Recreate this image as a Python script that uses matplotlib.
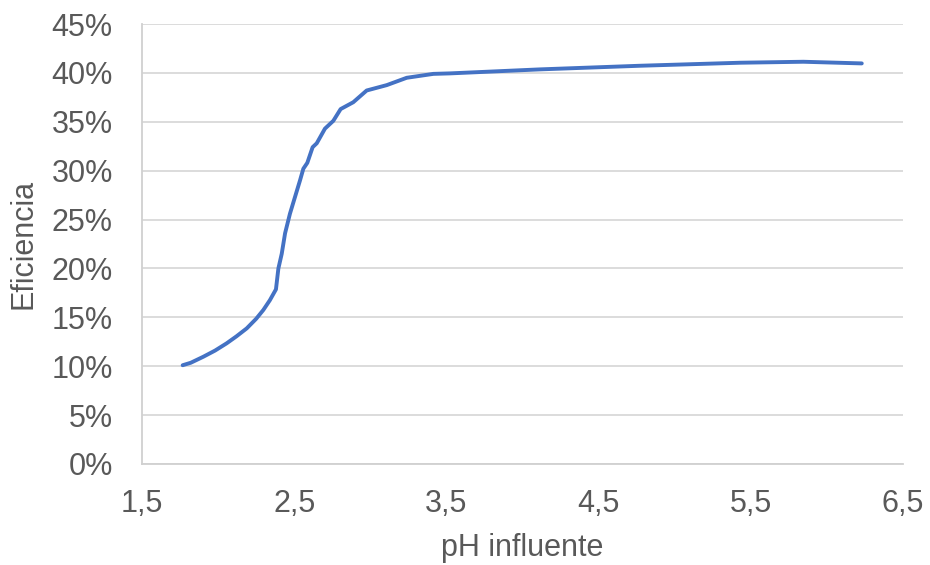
import matplotlib
matplotlib.use("Agg")
import matplotlib.pyplot as plt
from matplotlib.ticker import FuncFormatter, MultipleLocator

ph = [1.767, 1.82, 1.903, 1.98, 2.056, 2.12, 2.188, 2.25, 2.297, 2.34, 2.380, 2.396, 2.418,
      2.440, 2.472, 2.505, 2.538, 2.560, 2.586, 2.621, 2.648, 2.702, 2.757, 2.805,
      2.888, 2.976, 3.108, 3.239, 3.414, 3.524, 4.115, 4.77, 5.43, 5.845, 6.229]
eficiencia = [10.1, 10.35, 10.97, 11.6, 12.34, 13.05, 13.87, 14.85, 15.75, 16.75, 17.86, 20.0, 21.5,
              23.6, 25.6, 27.3, 29.0, 30.2, 30.8, 32.4, 32.8, 34.3, 35.1, 36.3,
              37.0, 38.2, 38.75, 39.5, 39.9, 39.95, 40.36, 40.73, 41.04, 41.14, 40.97]
x_ticks = [1.5, 2.5, 3.5, 4.5, 5.5, 6.5]

plt.rcParams['font.family'] = ['Liberation Sans', 'DejaVu Sans']
grey = '#595959'

fig = plt.figure(figsize=(9.3, 5.65), dpi=100)
ax = fig.add_axes([0.1527, 0.1788, 0.8183, 0.7787])

ax.plot(ph, eficiencia, color='#4472C4', linewidth=2.8, solid_capstyle='round',
        solid_joinstyle='round', zorder=3)

ax.set_xlim(1.5, 6.5)
ax.set_ylim(0, 45)
ax.set_xticks(x_ticks)
ax.xaxis.set_major_formatter(FuncFormatter(lambda v, p: f"{v:.1f}".replace('.', ',')))
ax.yaxis.set_major_locator(MultipleLocator(5))
ax.yaxis.set_major_formatter(FuncFormatter(lambda v, p: f"{v:.0f}%"))

ax.grid(axis='y', color='#d9d9d9', linewidth=1.3, zorder=0)
ax.set_axisbelow(True)
for s in ['top', 'right']:
    ax.spines[s].set_visible(False)
for s in ['left', 'bottom']:
    ax.spines[s].set_color('#d0d0d0')
    ax.spines[s].set_linewidth(1.3)

ax.tick_params(axis='both', length=0, labelsize=22, labelcolor=grey)
ax.tick_params(axis='x', pad=18)
ax.tick_params(axis='y', pad=21)

ax.set_xlabel('pH influente', fontsize=22, color=grey)
ax.set_ylabel('Eficiencia', fontsize=22, color=grey)
ax.xaxis.label.set_verticalalignment('center')
ax.yaxis.label.set_verticalalignment('center')
ax.xaxis.set_label_coords(0.5, (464 - 548) / 440)
ax.yaxis.set_label_coords((23 - 142) / 761, 0.5)

fig.savefig('out.png', dpi=100)
